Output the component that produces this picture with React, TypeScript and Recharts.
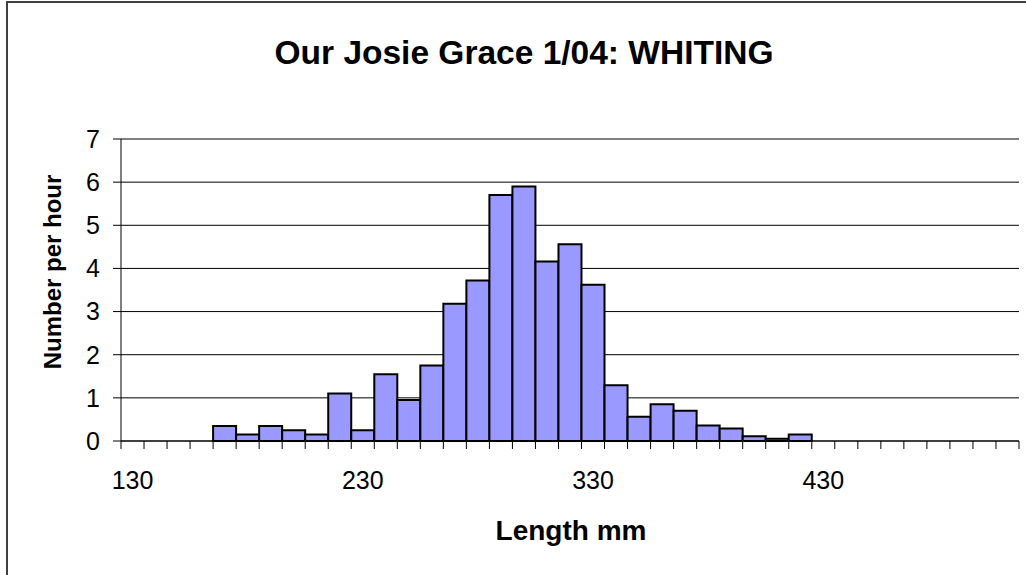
import React from 'react';
import { BarChart, Bar, XAxis, YAxis, CartesianGrid } from 'recharts';

const categories: string[] = [
  '130','140','150','160','170','180','190','200','210','220',
  '230','240','250','260','270','280','290','300','310','320',
  '330','340','350','360','370','380','390','400','410','420',
  '430','440','450','460','470','480','490','500','510',
];
const counts: number[] = [
  0, 0, 0, 0, 0.35, 0.15, 0.35, 0.25, 0.15, 1.1,
  0.25, 1.55, 0.95, 1.75, 3.18, 3.72, 5.7, 5.9, 4.16, 4.56,
  3.62, 1.29, 0.56, 0.85, 0.7, 0.36, 0.29, 0.11, 0.05, 0.15,
  0, 0, 0, 0, 0, 0, 0, 0, 0,
];
const yTicks: number[] = [0, 1, 2, 3, 4, 5, 6, 7];

const title = 'Our Josie Grace 1/04: WHITING';
const xTitle = 'Length mm';
const yTitle = 'Number per hour';

const data = categories.map((c, i) => ({ len: c, v: counts[i] }));

const W = 1026;
const H = 575;
const PLOT_L = 121;
const PLOT_R = 1019;
const PLOT_T = 139;
const PLOT_B = 441;
const BAND = (PLOT_R - PLOT_L) / categories.length;
const FONT = '"Liberation Sans", Arial, sans-serif';

const XTick = (props: any) => {
  const { x, y, payload, index } = props;
  const half = BAND / 2;
  const i = typeof index === 'number' ? index : payload?.index ?? 0;
  return (
    <g>
      <line x1={x - half} y1={y} x2={x - half} y2={y + 8} stroke="#000" strokeWidth={1} />
      {i === categories.length - 1 && (
        <line x1={x + half} y1={y} x2={x + half} y2={y + 8} stroke="#000" strokeWidth={1} />
      )}
      {i % 10 === 0 && (
        <text x={x} y={y + 48} textAnchor="middle" fontSize={25} fontFamily={FONT} fill="#000">
          {payload.value}
        </text>
      )}
    </g>
  );
};

export default function App() {
  return (
    <div style={{ position: 'absolute', left: 0, top: 0, width: W, height: H, overflow: 'hidden', background: '#fff' }}>
      <div
        style={{
          position: 'absolute',
          left: 6,
          top: 1,
          width: 1200,
          height: 800,
          border: '2px solid #404040',
        }}
      />
      <div style={{ position: 'absolute', left: 0, top: 0 }}>
        <BarChart
          width={W}
          height={H}
          data={data}
          barCategoryGap={0}
          margin={{ top: PLOT_T, right: W - PLOT_R, bottom: H - PLOT_B - 60, left: 0 }}
        >
          <CartesianGrid vertical={false} stroke="#000" strokeWidth={1} yAxisId="l" />
          <XAxis
            dataKey="len"
            type="category"
            interval={0}
            height={60}
            tickSize={0}
            tickMargin={0}
            tickLine={false}
            axisLine={{ stroke: '#000', strokeWidth: 1 }}
            tick={<XTick />}
          />
          <YAxis
            yAxisId="l"
            domain={[0, 7]}
            ticks={yTicks}
            interval={0}
            width={PLOT_L}
            tickSize={8}
            tickMargin={13}
            axisLine={{ stroke: '#000', strokeWidth: 1 }}
            tickLine={{ stroke: '#000', strokeWidth: 1 }}
            tick={{ fill: '#000', fontSize: 25, fontFamily: FONT }}
          />
          <YAxis
            yAxisId="r"
            orientation="right"
            width={0}
            tick={false}
            tickLine={false}
            axisLine={{ stroke: '#808080', strokeWidth: 1 }}
          />
          <Bar
            yAxisId="l"
            dataKey="v"
            fill="#9999FF"
            stroke="#000"
            strokeWidth={2}
            isAnimationActive={false}
          />
        </BarChart>
      </div>
      <svg
        width={W}
        height={H}
        style={{ position: 'absolute', left: 0, top: 0, pointerEvents: 'none' }}
      >
        <text x={524} y={64} textAnchor="middle" fontSize={33.5} fontWeight="bold" fontFamily={FONT} fill="#000">
          {title}
        </text>
        <text x={571} y={540} textAnchor="middle" fontSize={28} fontWeight="bold" fontFamily={FONT} fill="#000">
          {xTitle}
        </text>
        <text
          x={61}
          y={272}
          transform="rotate(-90 61 272)"
          textAnchor="middle"
          fontSize={24}
          fontWeight="bold"
          fontFamily={FONT}
          fill="#000"
        >
          {yTitle}
        </text>
      </svg>
    </div>
  );
}
